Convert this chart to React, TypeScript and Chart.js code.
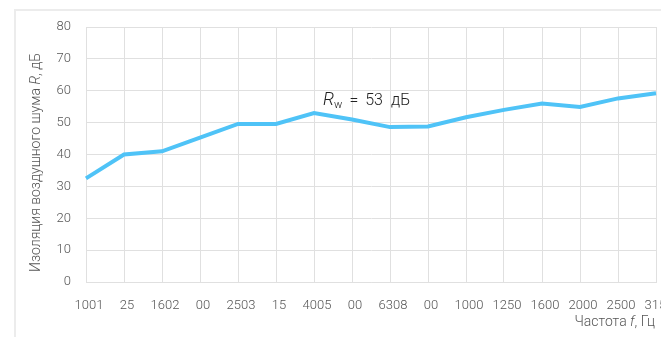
import React, { useEffect, useRef } from "react";
import { Chart, registerables } from "chart.js";

Chart.register(...registerables);

const categories = ["1001", "25", "1602", "00", "2503", "15", "4005", "00", "6308", "00", "1000", "1250", "1600", "2000", "2500", "3150"];
const insulation = [32.5, 40, 41, 45.3, 49.6, 49.6, 53, 51, 48.6, 48.8, 51.7, 54, 56, 54.9, 57.6, 59.2];
const yTicksMin = 0;
const yTicksMax = 80;
const yStep = 10;
const rwIndex = 6;
const rwValue = "53";

const FONT = "Roboto, 'DejaVu Sans', sans-serif";
const TEXT = "#555555";

const titlePlugin = {
  id: "customTitles",
  afterDraw(chart: any) {
    const ctx = chart.ctx as CanvasRenderingContext2D;
    const area = chart.chartArea;
    const xs = chart.scales.x;
    const ys = chart.scales.y;
    ctx.save();
    ctx.fillStyle = TEXT;
    ctx.textBaseline = "alphabetic";

    const fontOf = (it: boolean, fs: number) => `${it ? "italic " : ""}300 ${fs}px ${FONT}`;

    // Y title (rotated)
    const ySegs: [string, boolean][] = [["Изоляция воздушного шума ", false], ["R", true], [", дБ", false]];
    let total = 0;
    for (const [t, it] of ySegs) { ctx.font = fontOf(it, 14); total += ctx.measureText(t).width; }
    ctx.save();
    ctx.translate(32, (area.top + area.bottom) / 2 + 8);
    ctx.rotate(-Math.PI / 2);
    let cx = -total / 2;
    for (const [t, it] of ySegs) { ctx.font = fontOf(it, 14); ctx.fillText(t, cx, 0); cx += ctx.measureText(t).width; }
    ctx.restore();

    // X title (right aligned)
    const xSegs: [string, boolean][] = [["Частота ", false], ["f", true], [", Гц", false]];
    total = 0;
    for (const [t, it] of xSegs) { ctx.font = fontOf(it, 14); total += ctx.measureText(t).width; }
    cx = area.right - total - 1;
    for (const [t, it] of xSegs) { ctx.font = fontOf(it, 14); ctx.fillText(t, cx, chart.height - 3); cx += ctx.measureText(t).width; }

    // Rw annotation
    const ax = xs.getPixelForValue(rwIndex) + 9;
    const ay = ys.getPixelForValue(55.5);
    ctx.fillStyle = "#222222";
    ctx.font = `italic 300 18px ${FONT}`;
    ctx.fillText("R", ax, ay);
    let px = ax + ctx.measureText("R").width;
    ctx.font = `300 11px ${FONT}`;
    ctx.fillText("w", px, ay + 3);
    px += ctx.measureText("w").width + 7;
    ctx.font = `300 16px ${FONT}`;
    ctx.fillText("=", px, ay);
    px += ctx.measureText("=").width + 7;
    ctx.fillText(rwValue, px, ay);
    px += ctx.measureText(rwValue).width + 8;
    ctx.fillText("дБ", px, ay);
    ctx.restore();
  },
};

export default function App() {
  const ref = useRef<HTMLCanvasElement | null>(null);
  useEffect(() => {
    document.documentElement.style.overflow = "hidden";
    const chart = new Chart(ref.current as HTMLCanvasElement, {
      type: "line",
      data: {
        labels: categories,
        datasets: [
          {
            data: insulation,
            borderColor: "#4fc3f7",
            borderWidth: 4,
            pointRadius: 0,
            tension: 0,
            fill: false,
          },
        ],
      },
      options: {
        animation: false,
        responsive: false,
        maintainAspectRatio: false,
        layout: { padding: { left: 38, top: 19, right: 52, bottom: 7 } },
        plugins: { legend: { display: false }, tooltip: { enabled: false }, title: { display: false } },
        scales: {
          x: {
            offset: false,
            grid: { color: "#e0e0e0", drawTicks: false },
            border: { color: "#e0e0e0" },
            afterFit: (s: any) => {
              s.paddingLeft = 0;
              s.paddingRight = 0;
              s.height = 40;
            },
            ticks: {
              color: TEXT,
              font: { family: FONT, size: 13, weight: 300 },
              padding: 16,
              maxRotation: 0,
              autoSkip: false,
              labelOffset: 3,
            },
          },
          y: {
            min: yTicksMin,
            max: yTicksMax,
            grid: { color: "#e0e0e0", drawTicks: false },
            border: { color: "#e0e0e0" },
            afterFit: (s: any) => {
              s.paddingTop = 0;
              s.paddingBottom = 0;
              s.width = 40;
            },
            ticks: {
              stepSize: yStep,
              color: TEXT,
              font: { family: FONT, size: 13, weight: 300 },
              padding: 15,
            },
          },
        },
      },
      plugins: [titlePlugin],
    });
    return () => chart.destroy();
  }, []);

  return (
    <div style={{ position: "fixed", left: 0, top: 0, width: 661, height: 337, overflow: "hidden", background: "#ffffff" }}>
      <div
        style={{
          position: "absolute",
          left: 14,
          top: 9,
          width: 800,
          height: 400,
          borderTop: "2px solid #ececec",
          borderLeft: "2px solid #ececec",
        }}
      />
      <canvas ref={ref} width={700} height={321} style={{ position: "absolute", left: 8, top: 8, width: 700, height: 321 }} />
    </div>
  );
}
